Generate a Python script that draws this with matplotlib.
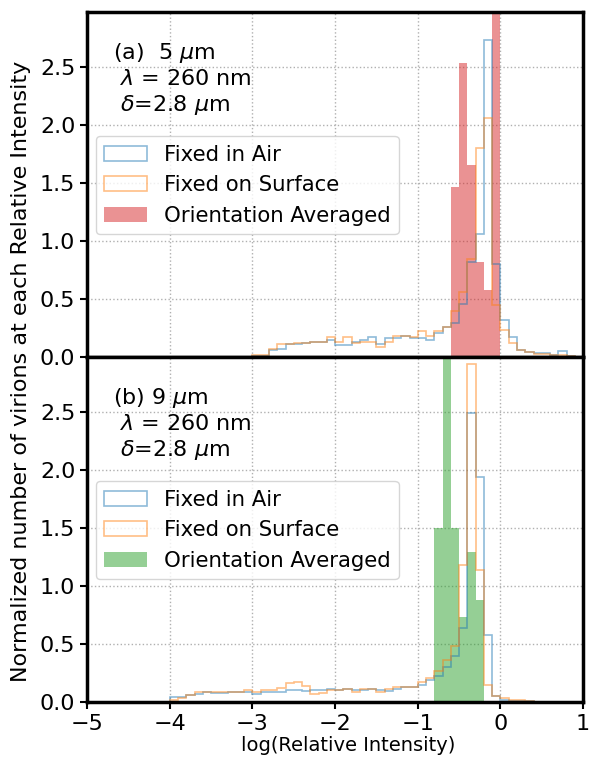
import matplotlib
matplotlib.use('Agg')
import matplotlib.pyplot as plt
import numpy as np

# bin edges (log10 of relative intensity), width 0.1
edges_a = np.round(np.arange(-3.0, 0.9 + 0.001, 0.1), 2)
edges_b = np.round(np.arange(-4.0, 0.4 + 0.001, 0.1), 2)
edges_avg_a = np.round(np.arange(-0.6, 0.0 + 0.001, 0.1), 2)
edges_avg_b = np.round(np.arange(-0.8, -0.2 + 0.001, 0.1), 2)

# (a) 5 um
air_a = [0.01, 0.01, 0.06, 0.07, 0.11, 0.11, 0.12, 0.13, 0.13, 0.15,
         0.10, 0.10, 0.13, 0.15, 0.17, 0.11, 0.16, 0.16, 0.18, 0.16,
         0.16, 0.15, 0.21, 0.26, 0.29, 0.46, 0.82, 1.06, 2.73, 0.80,
         0.32, 0.17, 0.06, 0.04, 0.035, 0.035, 0.02, 0.05, 0.01]
surf_a = [0.02, 0.02, 0.07, 0.11, 0.11, 0.12, 0.12, 0.13, 0.13, 0.17,
          0.13, 0.17, 0.12, 0.13, 0.13, 0.09, 0.13, 0.18, 0.18, 0.17,
          0.22, 0.18, 0.22, 0.26, 0.40, 0.56, 0.84, 1.80, 2.06, 0.45,
          0.23, 0.12, 0.06, 0.04, 0.03, 0.03, 0.02, 0.02, 0.01]
avg_a = [1.46, 2.53, 1.65, 0.82, 0.58, 3.50]

# (b) 9 um
air_b = [0.04, 0.045, 0.06, 0.07, 0.085, 0.08, 0.08, 0.085, 0.085, 0.085,
         0.07, 0.09, 0.09, 0.09, 0.10, 0.10, 0.095, 0.10, 0.10, 0.11,
         0.10, 0.11, 0.10, 0.10, 0.11, 0.10, 0.095, 0.115, 0.13, 0.13,
         0.145, 0.19, 0.22, 0.30, 0.40, 0.64, 2.49, 1.94, 0.58, 0.05,
         0.02, 0.01, 0.005, 0.005]
surf_b = [0.02, 0.03, 0.06, 0.09, 0.09, 0.09, 0.085, 0.09, 0.09, 0.10,
          0.09, 0.10, 0.10, 0.12, 0.16, 0.175, 0.14, 0.07, 0.075, 0.10,
          0.10, 0.115, 0.09, 0.11, 0.115, 0.09, 0.11, 0.13, 0.13, 0.13,
          0.17, 0.21, 0.27, 0.36, 0.48, 1.18, 2.91, 1.14, 0.15, 0.05,
          0.03, 0.02, 0.015, 0.01]
avg_b = [1.50, 3.50, 1.50, 0.73, 1.29, 0.88]

labels_a = '(a)  5 $\\mu$m\n $\\lambda$ = 260 nm\n $\\delta$=2.8 $\\mu$m'
labels_b = '(b) 9 $\\mu$m\n $\\lambda$ = 260 nm\n $\\delta$=2.8 $\\mu$m'

fig = plt.figure(figsize=(5.89, 7.57), dpi=100)
ax1 = fig.add_axes([0.148, 0.5284, 0.842, 0.4558])
ax2 = fig.add_axes([0.148, 0.0727, 0.842, 0.4557], sharex=ax1)

panels = [(ax1, edges_a, air_a, surf_a, edges_avg_a, avg_a, 'tab:red', labels_a),
          (ax2, edges_b, air_b, surf_b, edges_avg_b, avg_b, 'tab:green', labels_b)]

for ax, edges, air, surf, e_avg, avg, col, txt in panels:
    mids = (edges[:-1] + edges[1:]) / 2
    mids_avg = (e_avg[:-1] + e_avg[1:]) / 2
    ax.hist(mids, bins=edges, weights=air, histtype='step', color='tab:blue',
            alpha=0.5, linewidth=1.2, label='Fixed in Air')
    ax.hist(mids, bins=edges, weights=surf, histtype='step', color='tab:orange',
            alpha=0.5, linewidth=1.2, label='Fixed on Surface')
    ax.hist(mids_avg, bins=e_avg, weights=avg, histtype='stepfilled', color=col,
            alpha=0.5, label='Orientation Averaged')
    ax.set_xlim(-5, 1)
    ax.set_ylim(0, 2.97)
    ax.set_yticks([0.0, 0.5, 1.0, 1.5, 2.0, 2.5])
    ax.grid(True, linestyle=':', color='#b0b0b0', linewidth=1)
    ax.set_axisbelow(True)
    for sp in ax.spines.values():
        sp.set_linewidth(2.5)
    ax.tick_params(width=1.5, length=5, labelsize=16)
    ax.text(0.052, 0.915, txt, transform=ax.transAxes, va='top', ha='left',
            fontsize=16, linespacing=1.22)
    ax.legend(loc='upper left', bbox_to_anchor=(0.017, 0.64), borderaxespad=0,
              fontsize=15.3)

ax1.tick_params(axis='x', labelbottom=False, bottom=False)
ax2.set_xticks([-5, -4, -3, -2, -1, 0, 1])
ax2.set_xlabel('log(Relative Intensity)', fontsize=14)
ax2.xaxis.set_label_coords(0.527, -0.1)
fig.text(0.035, 0.51, 'Normalized number of virions at each Relative Intensity',
         rotation=90, va='center', ha='center', fontsize=16)

fig.savefig('out.png', dpi=100)
